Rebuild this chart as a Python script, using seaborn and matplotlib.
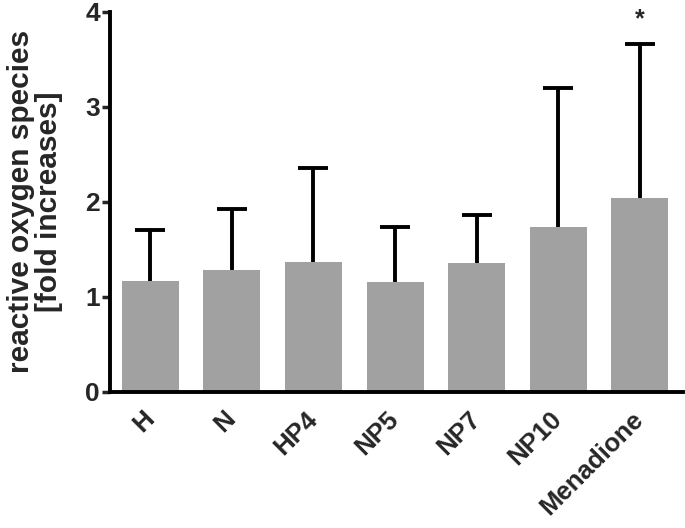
import matplotlib
matplotlib.use("Agg")
import matplotlib.pyplot as plt
import seaborn as sns
import numpy as np
import pandas as pd

categories = ["H", "N", "HP4", "NP5", "NP7", "NP10", "Menadione"]
means = [1.165, 1.28, 1.37, 1.15, 1.36, 1.73, 2.04]
upper = [1.70, 1.92, 2.36, 1.73, 1.86, 3.20, 3.66]
y_ticks = [0, 1, 2, 3, 4]
ylabel = "reactive oxygen species\n[fold increases]"
star_label = "*"

sns.set_theme(style="white")
plt.rcParams['font.family'] = ['Liberation Sans', 'DejaVu Sans']
plt.rcParams['font.weight'] = 'bold'

df = pd.DataFrame({"cat": categories, "mean": means, "upper": upper})

fig = plt.figure(figsize=(6.85, 5.28), dpi=100)
ax = fig.add_axes([0.160, 0.2581, 0.837, 0.7197])

sns.barplot(data=df, x="cat", y="mean", color="#a1a1a1", saturation=1,
            width=0.7, linewidth=0, errorbar=None, ax=ax)

xpos = np.arange(len(categories))
err_hi = np.array(upper) - np.array(means)
_, caps, _ = ax.errorbar(xpos, means, yerr=[np.zeros(len(means)), err_hi], fmt="none",
                         ecolor="black", elinewidth=2.8, capsize=10.8, capthick=2.8, zorder=5)
caps[0].set_visible(False)

ax.text(xpos[-1], 3.92, star_label, ha="center", va="center",
        fontsize=18, fontweight="bold", clip_on=False)

ax.set_xlim(-0.5, 6.53)
ax.set_ylim(0, 4)
ax.set_yticks(y_ticks)
ax.set_yticklabels([str(t) for t in y_ticks], fontsize=19, fontweight="bold")
ax.set_xticks(xpos)
ax.set_xticklabels(categories, fontsize=18.5, fontweight="bold",
                   rotation=45, ha="right", va="center", rotation_mode="anchor")
ax.tick_params(axis="x", length=0, pad=17)
ax.tick_params(axis="y", length=6, width=2.5, direction="out", pad=1, left=True)
ax.set_xlabel("")
ax.set_ylabel(ylabel, fontsize=21.5, fontweight="bold", linespacing=1.0)
ax.yaxis.set_label_coords(-0.081, 0.5)

for s in ["top", "right"]:
    ax.spines[s].set_visible(False)
for s in ["left", "bottom"]:
    ax.spines[s].set_linewidth(2.8)
    ax.spines[s].set_color("black")

fig.savefig("out.png", dpi=100)
